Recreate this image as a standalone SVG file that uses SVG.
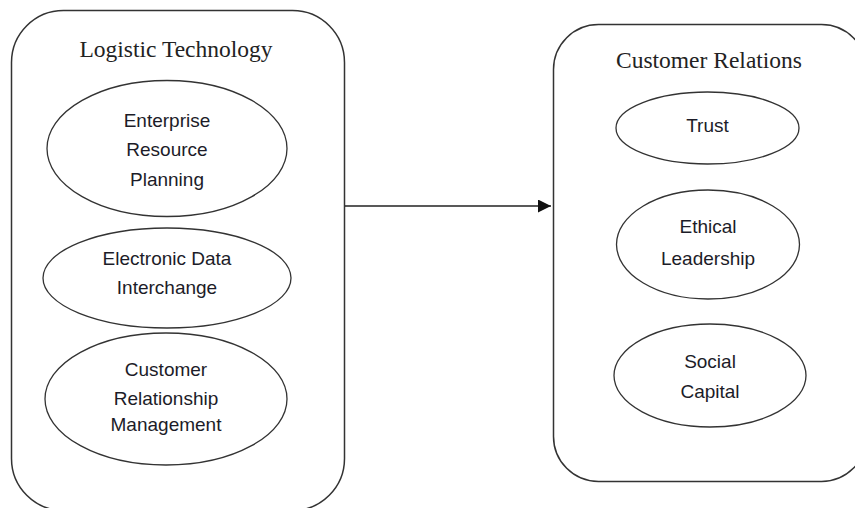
<svg xmlns="http://www.w3.org/2000/svg" width="855" height="508" viewBox="0 0 855 508">
  <style>
    .box { fill: #ffffff; stroke: #333333; stroke-width: 1.5; }
    .oval { fill: #ffffff; stroke: #333333; stroke-width: 1.3; }
    .title { font-family: "Liberation Serif", "Times New Roman", serif; font-size: 23.5px; fill: #222222; text-anchor: middle; }
    .label { font-family: "Liberation Sans", Arial, sans-serif; font-size: 19px; fill: #1c1c28; text-anchor: middle; }
    .link { stroke: #222222; stroke-width: 1.6; fill: none; }
  </style>
  <defs>
    <marker id="arrowhead" viewBox="0 0 10 10" refX="10" refY="5" markerWidth="13" markerHeight="13" markerUnits="userSpaceOnUse" orient="auto">
      <path d="M0,0 L10,5 L0,10 z" fill="#111111"/>
    </marker>
  </defs>
  <rect width="855" height="508" fill="#ffffff"/>

  <g id="logistic-technology">
    <rect class="box" x="11.5" y="10.5" width="333" height="500" rx="52" ry="52"/>
    <text class="title" x="176" y="57">Logistic Technology</text>
  </g>

  <g id="enterprise-resource-planning">
    <ellipse class="oval" cx="167" cy="148.5" rx="120" ry="68"/>
    <text class="label" x="167" y="127">Enterprise</text>
    <text class="label" x="167" y="156">Resource</text>
    <text class="label" x="167" y="186">Planning</text>
  </g>

  <g id="electronic-data-interchange">
    <ellipse class="oval" cx="167" cy="278" rx="124" ry="50"/>
    <text class="label" x="167" y="265">Electronic Data</text>
    <text class="label" x="167" y="294">Interchange</text>
  </g>

  <g id="customer-relationship-management">
    <ellipse class="oval" cx="166" cy="399" rx="121" ry="66"/>
    <text class="label" x="166" y="376">Customer</text>
    <text class="label" x="166" y="405">Relationship</text>
    <text class="label" x="166" y="431">Management</text>
  </g>

  <g id="customer-relations">
    <rect class="box" x="553.5" y="24.5" width="313" height="457" rx="45" ry="45"/>
    <text class="title" x="709" y="68">Customer Relations</text>
  </g>

  <g id="trust">
    <ellipse class="oval" cx="707.5" cy="128" rx="91.5" ry="36"/>
    <text class="label" x="707.5" y="132">Trust</text>
  </g>

  <g id="ethical-leadership">
    <ellipse class="oval" cx="708" cy="244.5" rx="91.5" ry="54.5"/>
    <text class="label" x="708" y="233">Ethical</text>
    <text class="label" x="708" y="265">Leadership</text>
  </g>

  <g id="social-capital">
    <ellipse class="oval" cx="710" cy="375.5" rx="96" ry="51.5"/>
    <text class="label" x="710" y="368">Social</text>
    <text class="label" x="710" y="398">Capital</text>
  </g>

  <g id="connectors">
    <line class="link" x1="345" y1="206" x2="551" y2="206" marker-end="url(#arrowhead)"/>
  </g>
</svg>
